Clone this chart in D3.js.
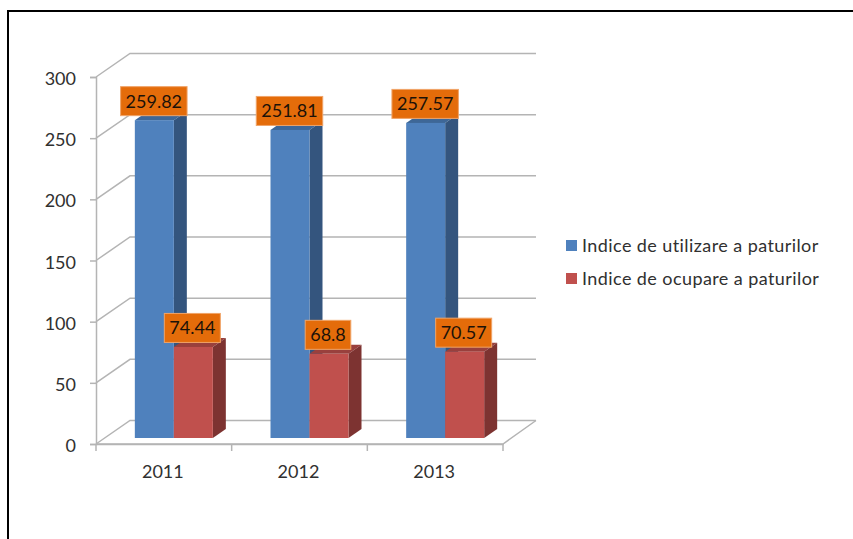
<!DOCTYPE html>
<html>
<head>
<meta charset="utf-8">
<script src="https://cdnjs.cloudflare.com/ajax/libs/d3/7.8.5/d3.min.js"></script>
<style>
  html, body { margin: 0; padding: 0; background: #fff; }
  svg { display: block; }
  text { font-family: Lato, "Open Sans", sans-serif; }
</style>
</head>
<body>
<svg id="chart" width="853" height="539"></svg>
<script>
const categories = ["2011", "2012", "2013"];
const seriesNames = ["Indice de utilizare a paturilor", "Indice de ocupare a paturilor"];
const utilizare = [259.82, 251.81, 257.57];
const ocupare = [74.44, 68.8, 70.57];
const yTicks = [0, 50, 100, 150, 200, 250, 300];

const svg = d3.select("#chart");

// Outer frame of the chart, open on the right and bottom edges of the page
svg.append("path")
  .attr("d", "M8,539V11H853")
  .attr("fill", "none").attr("stroke", "#000").attr("stroke-width", 2);

const x = d3.scaleBand().domain(categories).range([96, 503]);
const y = d3.scaleLinear().domain([0, 300]).range([444, 77]);

// Oblique projection: walls sit behind the axes, bars sit part way into the floor
const wallDepth = { dx: 34, dy: -23.5 };
const barInset = { dx: 10, dy: -6 };
const barDepth = { dx: 13, dy: -9 };
const barWidth = 39;

const gridColor = "#b4b4b4";
const grid = svg.append("g").attr("fill", "none").attr("stroke", gridColor).attr("stroke-width", 1.5);
const xMin = x.range()[0], xMax = x.range()[1];

yTicks.forEach(t => {
  const yy = y(t);
  const path = d3.path();
  path.moveTo(xMin, yy);
  path.lineTo(xMin + wallDepth.dx, yy + wallDepth.dy);
  path.lineTo(xMax + wallDepth.dx - 1, yy + wallDepth.dy);
  grid.append("path").attr("d", path.toString());
});

// Front edge of the floor and its right side
const floor = d3.path();
floor.moveTo(xMin, y(0));
floor.lineTo(xMax, y(0));
floor.lineTo(xMax + wallDepth.dx - 1, y(0) + wallDepth.dy);
grid.append("path").attr("d", floor.toString());

// Axes drawn with d3-axis, recoloured to the pale grey used by the walls
const yAxis = svg.append("g")
  .attr("transform", `translate(${xMin},0)`)
  .call(d3.axisLeft(y).tickValues(yTicks).tickSize(6).tickPadding(14));
const xAxis = svg.append("g")
  .attr("transform", `translate(0,${y(0)})`)
  .call(d3.axisBottom(x).tickValues([]).tickSize(0));
[yAxis, xAxis].forEach(a => {
  a.selectAll("path").attr("stroke", gridColor).attr("stroke-width", 1.5);
  a.selectAll("line").attr("stroke", gridColor).attr("stroke-width", 1.5);
  a.selectAll("text").attr("fill", "#303030").attr("font-size", 18).attr("font-family", "Lato").attr("dy", "0.42em");
});

// Category separators and labels along the floor edge
const edges = categories.map(c => x(c)).concat([xMax]);
svg.append("g").selectAll("line").data(edges).join("line")
  .attr("x1", d => d).attr("x2", d => d)
  .attr("y1", y(0)).attr("y2", y(0) + 7)
  .attr("stroke", gridColor).attr("stroke-width", 1.5);
svg.append("g").selectAll("text").data(categories).join("text")
  .attr("x", d => x(d) + x.bandwidth() / 2 - 1)
  .attr("y", 478)
  .attr("text-anchor", "middle")
  .attr("font-size", 18)
  .attr("fill", "#303030")
  .text(d => d);

// Draws one 3D column: front face, right side and top
function column(g, left, value, colors) {
  const top = y(value) + barInset.dy;
  const base = y(0) + barInset.dy;
  const right = left + barWidth;
  g.append("path").attr("fill", colors.top)
    .attr("d", `M${left},${top}l${barDepth.dx},${barDepth.dy}h${barWidth}l${-barDepth.dx},${-barDepth.dy}z`);
  g.append("path").attr("fill", colors.side)
    .attr("d", `M${right},${top}l${barDepth.dx},${barDepth.dy}V${base + barDepth.dy}L${right},${base}z`);
  g.append("rect").attr("fill", colors.front)
    .attr("x", left).attr("y", top).attr("width", barWidth).attr("height", base - top);
}

const blue = { front: "#4f81bd", side: "#34557e", top: "#3e6797" };
const red = { front: "#c0504d", side: "#7d3331", top: "#99403d" };

const bars = svg.append("g");
categories.forEach((c, i) => {
  const left = x(c) + (x.bandwidth() - 2 * barWidth) / 2 + barInset.dx;
  column(bars, left, utilizare[i], blue);
  column(bars, left + barWidth, ocupare[i], red);
});

// Orange value callouts above each column
const labels = svg.append("g");
function callout(cx, value) {
  const g = labels.append("g");
  const rect = g.append("rect").attr("fill", "#e46c0a").attr("stroke", "#f0a468").attr("stroke-width", 1);
  const bottom = y(value) + barInset.dy - 4.5;
  const text = g.append("text").attr("x", cx).attr("y", bottom - 8)
    .attr("text-anchor", "middle").attr("font-size", 18).attr("fill", "#1c1208").text(value);
  const w = text.node().getComputedTextLength() + 10;
  rect.attr("x", cx - w / 2).attr("y", bottom - 29).attr("width", w).attr("height", 29);
}
categories.forEach((c, i) => {
  const left = x(c) + (x.bandwidth() - 2 * barWidth) / 2 + barInset.dx;
  callout(left + barWidth / 2 - 0.5, utilizare[i]);
  callout(left + barWidth * 1.5 - 1, ocupare[i]);
});

// Legend on the right of the plot
const legendColors = [blue.front, red.front];
const legend = svg.append("g").selectAll("g").data(seriesNames).join("g")
  .attr("transform", (d, i) => `translate(566,${240 + i * 33})`);
legend.append("rect").attr("width", 11).attr("height", 11).attr("fill", (d, i) => legendColors[i]);
legend.append("text").attr("x", 16).attr("y", 12)
  .attr("font-size", 18).attr("letter-spacing", 0.42).attr("fill", "#303030").text(d => d);
</script>
</body>
</html>
